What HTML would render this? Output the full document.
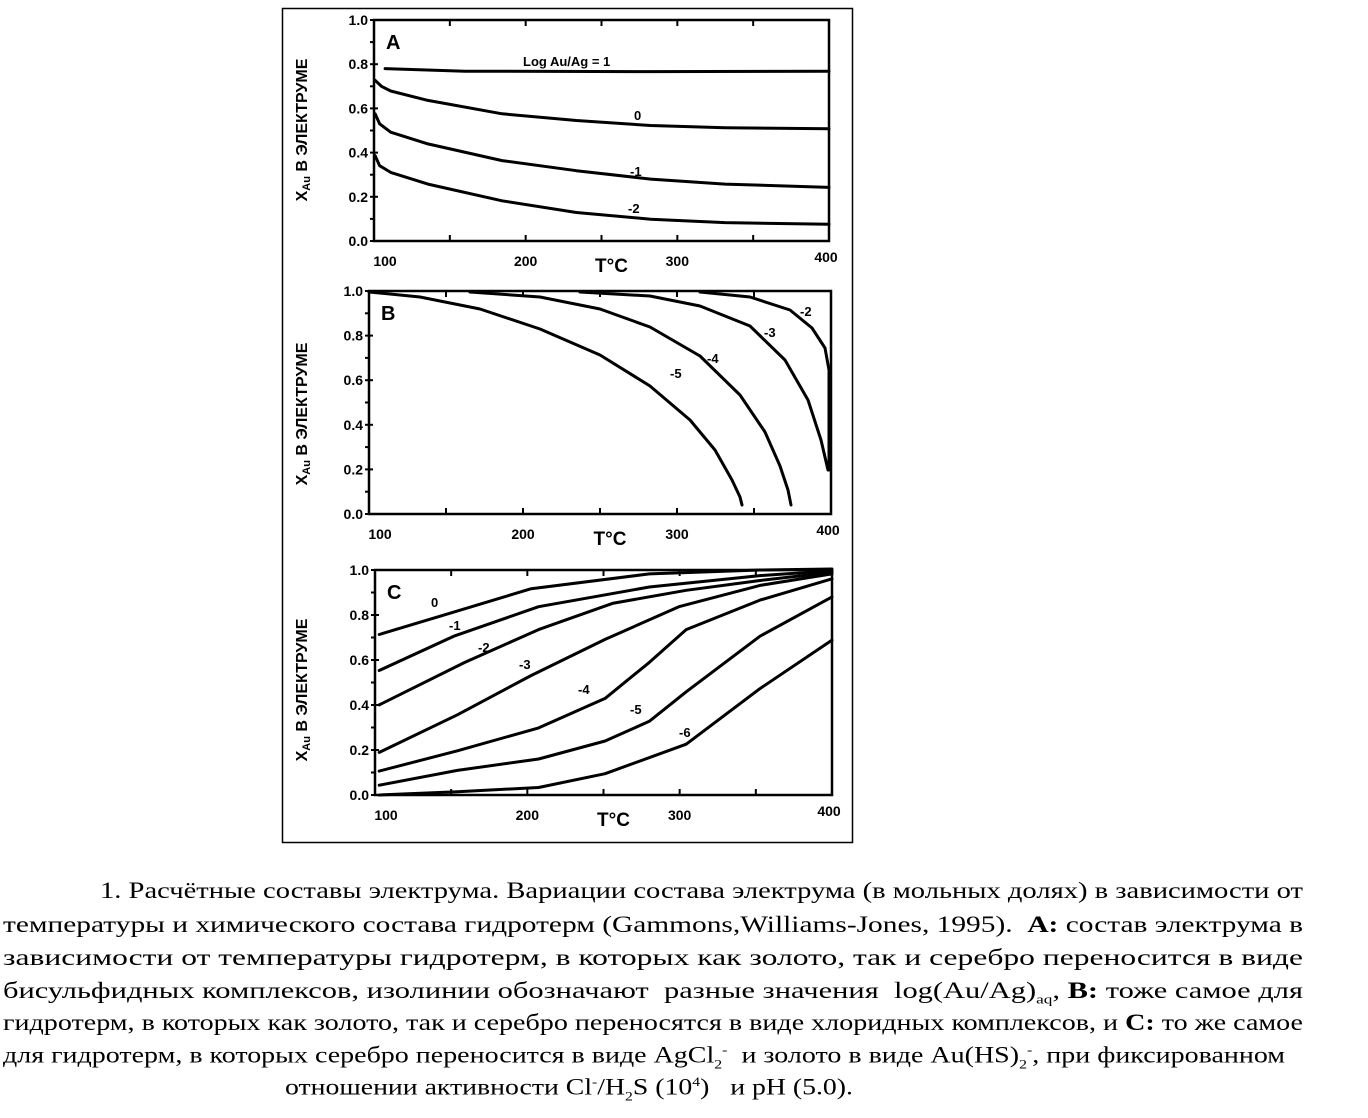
<!DOCTYPE html>
<html><head><meta charset="utf-8"><style>
body{margin:0;background:#fff;width:1368px;height:1118px;overflow:hidden;position:relative}
.cap{position:absolute;font-family:"Liberation Serif",serif;font-size:23px;color:#000;white-space:nowrap;transform-origin:0 0;display:inline-block}
svg text{font-family:"Liberation Sans",sans-serif;font-weight:bold}
</style></head><body>
<svg id="s" width="1368" height="1118" style="position:absolute;left:0;top:0">
<rect x="282.5" y="8.5" width="570" height="834" fill="none" stroke="#000" stroke-width="1.5"/>
</svg>
<div class="cap" data-w="1203" style="left:100px;top:878px">1. Расчётные составы электрума. Вариации состава электрума (в мольных долях) в зависимости от</div>
<div class="cap" data-w="1300" style="left:3px;top:912px">температуры и химического состава гидротерм (Gammons,Williams-Jones, 1995). &nbsp;<b>A:</b> состав электрума в</div>
<div class="cap" data-w="1300" style="left:3px;top:945px">зависимости от температуры гидротерм, в которых как золото, так и серебро переносится в виде</div>
<div class="cap" data-w="1300" style="left:3px;top:978px">бисульфидных комплексов, изолинии обозначают &nbsp;разные значения &nbsp;log(Au/Ag)<sub style="font-size:13px">aq</sub>, <b>B:</b> тоже самое для</div>
<div class="cap" data-w="1300" style="left:3px;top:1010px">гидротерм, в которых как золото, так и серебро переносятся в виде хлоридных комплексов, и <b>C:</b> то же самое</div>
<div class="cap" data-w="1282" style="left:3px;top:1042px">для гидротерм, в которых серебро переносится в виде AgCl<sub style="font-size:13px">2</sub><sup style="font-size:13px">-</sup> &nbsp;и золото в виде Au(HS)<sub style="font-size:13px">2</sub><sup style="font-size:13px">-</sup>, при фиксированном</div>
<div class="cap" data-w="568" style="left:285px;top:1074px">отношении активности Cl<sup style="font-size:13px">-</sup>/H<sub style="font-size:13px">2</sub>S (10<sup style="font-size:13px">4</sup>) &nbsp; и pH (5.0).</div>
<script>
document.querySelectorAll('.cap').forEach(function(d){var w=d.getBoundingClientRect().width;d.style.transform='scaleX('+(+d.getAttribute('data-w')/w)+')';});
var s=document.getElementById('s'),NS='http://www.w3.org/2000/svg';
function el(t,a,txt){var e=document.createElementNS(NS,t);for(var k in a)e.setAttribute(k,a[k]);if(txt!=null)e.textContent=txt;s.appendChild(e);return e;}
function path(pts,w){var d='M'+pts.map(p=>p[0].toFixed(1)+','+p[1].toFixed(1)).join(' L');el('path',{d:d,fill:'none',stroke:'#000','stroke-width':w||3,'stroke-linejoin':'round','stroke-linecap':'round'});}
function panel(x0,x1,y0,y1,letter,cy){
 el('rect',{x:x0,y:y0,width:x1-x0,height:y1-y0,fill:'none',stroke:'#000','stroke-width':2.5});
 for(var i=0;i<=10;i++){var y=y1-(y1-y0)*i/10;el('line',{x1:x0-4,y1:y,x2:x0+(i%2?0:4),y2:y,stroke:'#000','stroke-width':2});
  if(i%2==0)el('text',{x:x0-6,y:y+5,'text-anchor':'end','font-size':14},(i/10).toFixed(1));}
 for(var i=0;i<=6;i++){var x=x0+(x1-x0)*i/6;el('line',{x1:x,y1:y1,x2:x,y2:y1-6,stroke:'#000','stroke-width':2});el('line',{x1:x,y1:y0,x2:x,y2:y0+6,stroke:'#000','stroke-width':2});
  if(i%2==0)el('text',{x:x+(i==0?11:i==6?-3:0),y:y1+(i==6?21:25),'text-anchor':'middle','font-size':14},String(100+i*50));}
 el('text',{x:(x0+x1)/2+10,y:y1+31,'text-anchor':'middle','font-size':19},'T°C');
 el('text',{x:x0+12,y:y0+29,'font-size':20},letter);
 var t=el('text',{transform:'translate(307,'+cy+') rotate(-90)','text-anchor':'middle','font-size':16});
 t.innerHTML='X<tspan font-size="11" dy="3">Au</tspan><tspan dy="-3"> В ЭЛЕКТРУМЕ</tspan>';
}
panel(374,829,20,241,'A',130);
panel(369,831,291,514,'B',414);
panel(375,832,570,795,'C',690);
function mA(p){return [374+(p[0]-255)*455/1225,20+(p[1]-60)*221/660];}
[[[285,205],[500,213],[1000,214],[1480,213]],
 [[258,240],[275,258],[300,272],[400,300],[600,340],[800,360],[1000,375],[1200,382],[1480,385]],
 [[258,340],[270,370],[300,395],[400,430],[600,480],[800,510],[1000,535],[1200,550],[1480,560]],
 [[258,465],[270,495],[300,515],[400,550],[600,600],[800,635],[1000,655],[1200,665],[1480,670]]
].forEach(c=>path(c.map(mA)));
el('text',{x:523,y:66,'font-size':13,'font-weight':'normal'},'Log Au/Ag = 1');
el('text',{x:634,y:120,'font-size':13},'0');
el('text',{x:630,y:176,'font-size':13},'-1');
el('text',{x:628,y:213,'font-size':13},'-2');
[[[369,292],[420,297],[480,309],[540,329],[600,355],[650,386],[690,420],[715,450],[732,480],[740,497],[742,505]],
 [[470,292],[540,297],[600,309],[650,327],[700,356],[740,395],[765,432],[780,466],[788,490],[791,505]],
 [[580,292],[650,296],[700,306],[750,326],[785,360],[808,400],[821,440],[828,470]],
 [[700,292],[750,297],[790,310],[812,328],[825,348],[829,370],[829,470]]
].forEach(c=>path(c));
el('text',{x:800,y:316,'font-size':13},'-2');
el('text',{x:764,y:337,'font-size':13},'-3');
el('text',{x:707,y:363,'font-size':13},'-4');
el('text',{x:670,y:378,'font-size':13},'-5');
function mC(p){return [377+(p[0]-262)*455/1233,570+(p[1]-48)*225/687];}
[[[268,245],[460,180],[680,105],[1000,60],[1300,48],[1495,45]],
 [[268,355],[470,250],[700,160],[1000,100],[1300,65],[1495,50]],
 [[268,460],[500,330],[700,230],[900,150],[1100,110],[1300,80],[1495,55]],
 [[268,605],[480,490],[680,370],[880,260],[1080,160],[1300,95],[1495,60]],
 [[268,662],[480,600],[700,530],[880,440],[1000,330],[1100,230],[1300,140],[1495,75]],
 [[268,705],[480,660],[700,625],[880,570],[1000,510],[1100,420],[1300,250],[1495,130]],
 [[268,735],[480,725],[700,712],[880,670],[1100,580],[1300,410],[1495,262]]
].forEach(c=>path(c.map(mC)));
[['0',431,607],['-1',449,630],['-2',478,652],['-3',519,669],['-4',578,694],['-5',630,714],['-6',679,737]].forEach(l=>el('text',{x:l[1],y:l[2],'font-size':13},l[0]));
</script>
</body></html>
